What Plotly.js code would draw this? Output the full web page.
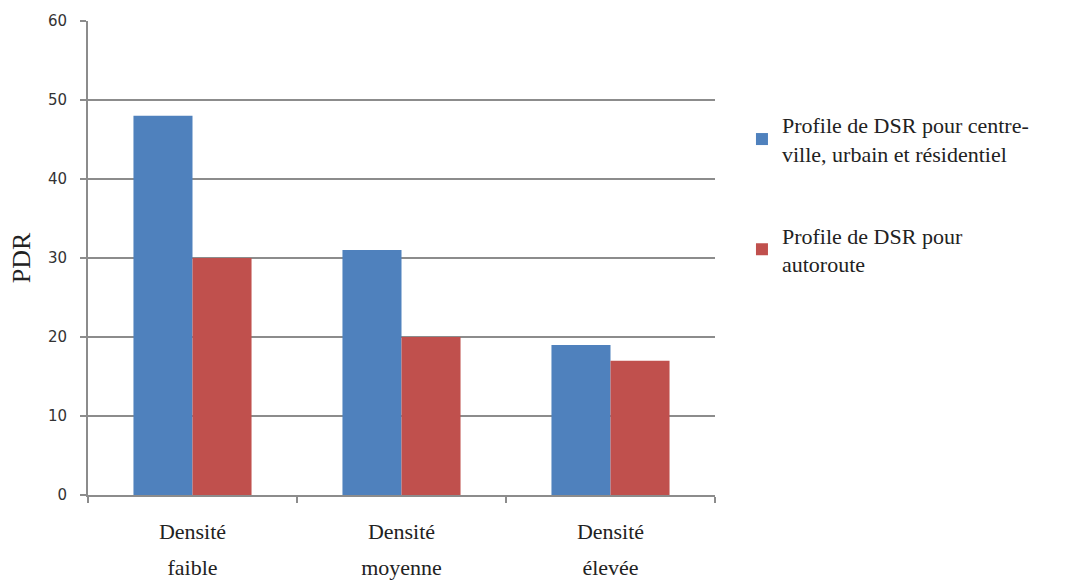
<!DOCTYPE html>
<html>
<head>
<meta charset="utf-8">
<script src="https://cdn.plot.ly/plotly-3.0.1.min.js"></script>
<style>
  html, body { margin: 0; padding: 0; background: #ffffff; }
  #chart { width: 1069px; height: 586px; }
</style>
</head>
<body>
<div id="chart"></div>
<script>
// Density scenarios (category axis), split over two label lines
const categories = ['faible', 'moyenne', 'élevée'];
const labelLine1 = ['Densité', 'Densité', 'Densité'];
const labelLine2 = ['faible', 'moyenne', 'élevée'];

// PDR per DSR profile
const seriesNames = [
  'Profile de DSR pour centre-<br>ville, urbain et résidentiel',
  'Profile de DSR pour<br>autoroute'
];
const urbanValues = [48, 31, 19];
const highwayValues = [30, 20, 17];

const yTicks = [0, 10, 20, 30, 40, 50, 60];

const serif = '"Liberation Serif", "Times New Roman", serif';
const sans = '"DejaVu Sans", Verdana, sans-serif';
const gridColor = '#8c8c8c';

const traces = [
  {
    type: 'bar',
    name: seriesNames[0],
    x: categories,
    y: urbanValues,
    marker: { color: '#4F81BD' },
    legendgroup: 'a',
    hoverinfo: 'y'
  },
  {
    type: 'bar',
    name: seriesNames[1],
    x: categories,
    y: highwayValues,
    marker: { color: '#C0504D' },
    legendgroup: 'b',
    hoverinfo: 'y'
  }
];

const layout = {
  width: 1069,
  height: 586,
  paper_bgcolor: '#ffffff',
  plot_bgcolor: '#ffffff',
  margin: { l: 88, r: 354, t: 21, b: 91 },
  barmode: 'group',
  bargap: 0.435,
  bargroupgap: 0,
  showlegend: true,
  legend: {
    x: 1.043,
    xanchor: 'left',
    y: 0.825,
    yanchor: 'top',
    font: { family: serif, size: 22, color: '#222222' },
    tracegroupgap: 50,
    bgcolor: 'rgba(0,0,0,0)'
  },
  xaxis: {
    type: 'category',
    range: [-0.5, 2.5],
    tickmode: 'array',
    tickvals: categories,
    ticktext: labelLine1,
    tickson: 'boundaries',
    ticks: 'outside',
    ticklen: 6,
    tickwidth: 2,
    tickcolor: gridColor,
    ticklabelstandoff: 16,
    tickfont: { family: serif, size: 22, color: '#222222' },
    showline: true,
    linecolor: gridColor,
    linewidth: 2,
    showgrid: false,
    zeroline: false,
    fixedrange: true
  },
  xaxis2: {
    overlaying: 'x',
    anchor: 'y',
    side: 'bottom',
    range: [-0.5, 2.5],
    tickmode: 'array',
    tickvals: [0, 1, 2],
    ticktext: labelLine2,
    ticks: '',
    ticklabelstandoff: 57,
    tickfont: { family: serif, size: 22, color: '#222222' },
    showline: false,
    showgrid: false,
    zeroline: false,
    fixedrange: true
  },
  yaxis: {
    range: [0, 60],
    tickmode: 'array',
    tickvals: yTicks,
    ticks: 'outside',
    ticklen: 6,
    tickwidth: 2,
    tickcolor: gridColor,
    ticklabelstandoff: 10,
    tickfont: { family: sans, size: 15, color: '#333333' },
    showline: true,
    linecolor: gridColor,
    linewidth: 2,
    showgrid: true,
    gridcolor: gridColor,
    gridwidth: 2,
    zeroline: false,
    fixedrange: true,
    title: {
      text: 'PDR',
      font: { family: serif, size: 26, color: '#222222' },
      standoff: 10
    }
  }
};

// An empty trace on the second x axis carries the second label line
traces.push({
  type: 'scatter',
  x: [0, 1, 2],
  y: [null, null, null],
  xaxis: 'x2',
  yaxis: 'y',
  showlegend: false,
  hoverinfo: 'skip'
});

Plotly.newPlot('chart', traces, layout, { displayModeBar: false, staticPlot: true });
</script>
</body>
</html>
